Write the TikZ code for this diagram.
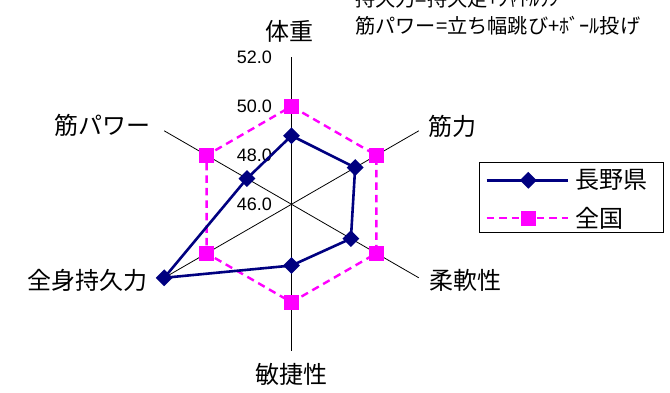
\documentclass[tikz,border=0pt]{standalone}
\usepackage{fontspec}
\setmainfont{Liberation Sans}
\newfontfamily\jfont{Noto Sans CJK JP}
\usetikzlibrary{shapes.geometric,positioning}
\definecolor{navy}{RGB}{0,0,128}
\definecolor{pink}{RGB}{255,0,255}

\begin{document}
\begin{tikzpicture}[x=1pt,y=1pt,
  axis/.style={draw=black,line width=0.8pt},
  ken/.style={draw=navy,line width=2.6pt,line join=round},
  zen/.style={draw=pink,line width=2.4pt,dash pattern=on 7.5pt off 5pt},
  kenmark/.style={diamond,fill=navy,inner sep=0pt,minimum size=17pt},
  zenmark/.style={rectangle,fill=pink,inner sep=0pt,minimum size=15pt},
  lbl/.style={font=\jfont\fontsize{24}{28}\selectfont,inner sep=0pt},
  note/.style={font=\jfont\fontsize{20.2}{22}\selectfont,inner sep=0pt,anchor=west},
  tick/.style={anchor=east,font=\fontsize{18}{20}\selectfont,inner sep=0pt}]
\useasboundingbox (0,0) rectangle (670,393);
\coordinate (O) at (291.5,188.7);
\foreach \ang/\nm in {90/a,30/b,-30/c,-90/d,-150/e,150/f}
  \draw[axis] (O) -- ++(\ang:147) coordinate (\nm);
\foreach \k/\t in {0/46.0,1/48.0,2/50.0,3/52.0}
  \node[tick] (t\k) at (272,{188.7+49*\k}) {\t};
% data points
\foreach \ang/\v/\nm in {90/48.8/ka,30/49.0/kb,-30/48.8/kc,-90/48.5/kd,-150/52.0/ke,150/48.1/kf}
  \path (O) ++(\ang:{(\v-46)*24.5}) coordinate (\nm);
\foreach \ang/\nm in {90/za,30/zb,-30/zc,-90/zd,-150/ze,150/zf}
  \path (O) ++(\ang:98) coordinate (\nm);
\draw[zen] (za) -- (zb) -- (zc) -- (zd) -- (ze) -- (zf) -- cycle;
\foreach \nm in {za,zb,zc,zd,ze,zf}
  \node[zenmark] at (\nm) {};
\draw[ken] (ka) -- (kb) -- (kc) -- (kd) -- (ke) -- (kf) -- cycle;
\foreach \nm in {ka,kb,kc,kd,ke,kf}
  \node[kenmark] at (\nm) {};
% axis labels
\node[lbl] (weight) at (289.5,362) {体重};
\node[lbl] (strength) at (452.5,267) {筋力};
\node[lbl] (flex) at (465,113) {柔軟性};
\node[lbl] (agile) at (291,19) {敏捷性};
\node[lbl] (endur) at (87.5,113) {全身持久力};
\node[lbl] (power) at (102.5,267.5) {筋パワー};
% notes
\node[note] (note1) at (355,394) {持久力=持久走+ｼｬﾄﾙﾗﾝ};
\node[note] (note2) at (355,367) {筋パワー=立ち幅跳び+ﾎﾞｰﾙ投げ};
% legend
\node[draw,line width=0.8pt,minimum width=184pt,minimum height=70pt] (leg) at (571.3,195.3) {};
\coordinate (k1) at (486.7,212.7);
\coordinate (k2) at (568.3,212.7);
\coordinate (z1) at (486.7,174.7);
\coordinate (z2) at (568.3,174.7);
\draw[ken] (k1) -- (k2);
\node[kenmark] (kenm) at (528.3,212.7) {};
\draw[zen] (z1) -- (z2);
\node[zenmark] (zenm) at (528.3,174.7) {};
\node[lbl,anchor=west] (kentxt) at (575,213) {長野県};
\node[lbl,anchor=west] (zentxt) at (575,175) {全国};
\end{tikzpicture}
\end{document}
